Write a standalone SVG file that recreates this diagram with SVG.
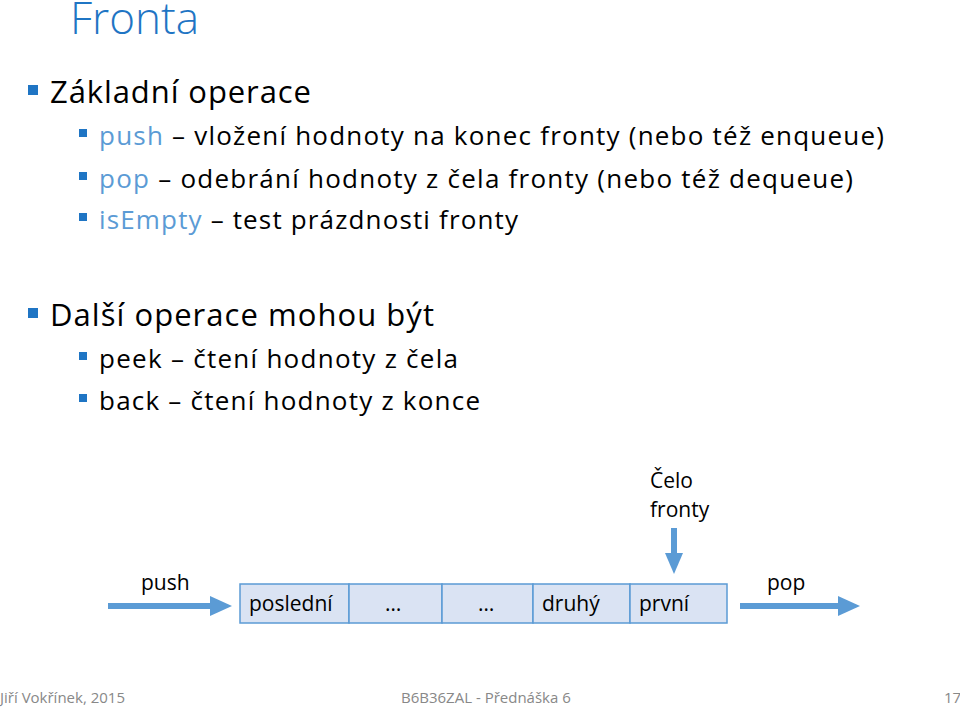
<svg xmlns="http://www.w3.org/2000/svg" width="960" height="707" viewBox="0 0 960 707">
<style>
text{font-family:"Open Sans","Liberation Sans",sans-serif;fill:#000}
.b{fill:#5B9BD5}
.l1{font-size:31px}.l2{font-size:26px}.c{font-size:21px}.f{font-size:15px;fill:#888}
.sq{fill:#1F75C4}
.box{fill:#DAE3F3;stroke:#5B9BD5;stroke-width:1.5}
.ar{stroke:#5B9BD5;stroke-width:6;fill:none}
.ah{fill:#5B9BD5}
</style>
<rect width="960" height="707" fill="#fff"/>
<text x="70" y="34" style="font-size:44px;fill:#1F75C4;font-weight:300">Fronta</text>
<g id="text">
<rect class="sq" x="28" y="85" width="10" height="10"/>
<text class="l1" x="50" y="103" textLength="261">Základní operace</text>
<rect class="sq" x="79" y="129" width="8" height="8"/>
<text class="l2" x="99" y="145" textLength="785"><tspan class="b">push</tspan> – vložení hodnoty na konec fronty (nebo též enqueue)</text>
<rect class="sq" x="79" y="172" width="8" height="8"/>
<text class="l2" x="99" y="188" textLength="754"><tspan class="b">pop</tspan> – odebrání hodnoty z čela fronty (nebo též dequeue)</text>
<rect class="sq" x="79" y="213" width="8" height="8"/>
<text class="l2" x="99" y="229" textLength="419"><tspan class="b">isEmpty</tspan> – test prázdnosti fronty</text>
<rect class="sq" x="28" y="308" width="10" height="10"/>
<text class="l1" x="50" y="326" textLength="384">Další operace mohou být</text>
<rect class="sq" x="79" y="352" width="8" height="8"/>
<text class="l2" x="99" y="368" textLength="359">peek – čtení hodnoty z čela</text>
<rect class="sq" x="79" y="394" width="8" height="8"/>
<text class="l2" x="99" y="410" textLength="381">back – čtení hodnoty z konce</text>
</g>
<g id="queue">
<rect class="box" x="240" y="584" width="109" height="39"/>
<rect class="box" x="349" y="584" width="93" height="39"/>
<rect class="box" x="442" y="584" width="91" height="39"/>
<rect class="box" x="533" y="584" width="97" height="39"/>
<rect class="box" x="630" y="584" width="97" height="39"/>
<text class="c" x="249" y="611">poslední</text>
<text class="c" x="385" y="611">…</text>
<text class="c" x="478" y="611">…</text>
<text class="c" x="542" y="611">druhý</text>
<text class="c" x="639" y="611">první</text>
</g>
<g id="connectors">
<line class="ar" x1="108" y1="606" x2="214" y2="606"/><polygon class="ah" points="210,596 232,606 210,616"/>
<line class="ar" x1="740" y1="606" x2="842" y2="606"/><polygon class="ah" points="838,596 860,606 838,616"/>
<line class="ar" x1="674" y1="528" x2="674" y2="556"/><polygon class="ah" points="665,553 674,574 683,553"/>
</g>
<g id="labels">
<text class="c" x="141" y="590">push</text>
<text class="c" x="767" y="590">pop</text>
<text class="c" x="650" y="488">Čelo</text>
<text class="c" x="650" y="517">fronty</text>
</g>
<g id="footer">
<text class="f" x="0" y="703">Jiří Vokřínek, 2015</text>
<text class="f" x="401" y="703">B6B36ZAL - Přednáška 6</text>
<text class="f" x="944" y="703">17</text>
</g>
</svg>
